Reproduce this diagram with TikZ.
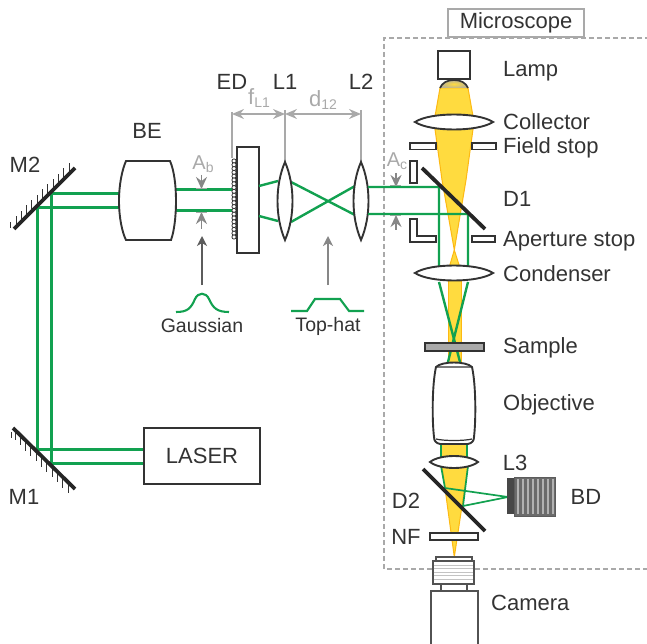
\documentclass[tikz,border=0pt]{standalone}
\usepackage{fontspec}
\setmainfont{Liberation Sans}
\usetikzlibrary{arrows.meta}
\definecolor{ink}{HTML}{333333}
\definecolor{beam}{HTML}{12A150}
\definecolor{pale}{HTML}{A9A9A9}
\definecolor{lampy}{HTML}{FFDB3F}
\definecolor{lampo}{HTML}{FDB913}
\newcommand{\subsc}[1]{{\fontsize{14}{14}\selectfont\raisebox{-3.5pt}{#1}}}
\tikzset{
 x=1pt,y=-1pt,
 lab/.style={text=ink,font=\fontsize{22}{24}\selectfont,inner sep=0pt,anchor=center},
 labl/.style={lab,anchor=west},
 smalllab/.style={lab,font=\fontsize{19.5}{22}\selectfont},
 glab/.style={lab,text=pale},
 outline/.style={draw=ink,line width=1.9pt,fill=white},
 thin outline/.style={draw=ink,line width=1.2pt,fill=white},
 mirror/.style={draw=black!85,line width=3.8pt},
 hatch/.style={draw=ink,line width=.9pt},
 gbeam/.style={draw=beam,line width=3pt},
 gbeamm/.style={draw=beam,line width=2.4pt},
 gbeamt/.style={draw=beam,line width=1.7pt},
 lamp/.style={fill=lampy,draw=lampo,line width=1pt},
 dim/.style={draw=pale,line width=1.5pt,{Stealth[length=12pt,width=10pt,inset=4pt]}-{Stealth[length=12pt,width=10pt,inset=4pt]}},
 ptr/.style={draw=pale!80!black,line width=1.8pt,-{Stealth[length=10pt,width=10pt,inset=3pt]}},
 aper/.style={draw=pale!80!black,line width=1.8pt,-{Stealth[length=12pt,width=11pt,inset=4pt]}},
 guide/.style={draw=pale,line width=1.6pt},
}
\begin{document}
\begin{tikzpicture}
\useasboundingbox (0,0) rectangle (647,644);
% dashed microscope box
\draw[pale,line width=1.7pt,dash pattern=on 5pt off 3pt] (650,38) -- (384,38) -- (384,569) -- (650,569);
\node[lab,draw=pale,line width=2pt,fill=white,minimum width=136pt,minimum height=28pt] (mic) at (516,23) {Microscope};
% left beams
\draw[gbeam] (51,194) -- (119,194) (37,208) -- (119,208);
\draw[gbeam] (37,208) -- (37,449) -- (144,449);
\draw[gbeam] (51,194) -- (51,463) -- (144,463);
\draw[gbeam] (176,190) -- (233,190) (176,211) -- (233,211);
% mirrors
\foreach \x in {16,21.3,...,72}{\draw[hatch] (\x,{229-(\x-14)}) -- ++(0,-11);}
\draw[hatch] (10,222) -- (10,228);
\draw[mirror] (14,229) -- (75,168);
\foreach \x in {15,20.3,...,72}{\draw[hatch] (\x,{428+(\x-13)}) -- ++(0,10);}
\draw[hatch] (11,432) -- (11,438);
\draw[mirror] (13,428) -- (75,489);
\node[lab] (m2) at (25,165) {M2};
\node[lab] (m1) at (24,497) {M1};
% BE
\draw[outline] (126,161) -- (170,161) .. controls (174,170) and (176,185) .. (176,201) .. controls (176,217) and (174,232) .. (171,240) -- (126,240) .. controls (122,232) and (119,217) .. (119,201) .. controls (119,185) and (122,170) .. (126,161) -- cycle;
\node[lab] (be) at (147,131) {BE};
% laser
\node[draw=ink,line width=1.9pt,fill=white,minimum width=116pt,minimum height=56pt,inner sep=0pt,text=ink,font=\fontsize{22}{24}\selectfont] (laser) at (202,456) {LASER};
% ED
\draw[guide] (232,112) -- (232,158);
\foreach \y in {161,164.8,...,240}{\draw[draw=ink,line width=.8pt,fill=white] (234,\y) circle (2.1);}
\draw[outline] (237,147) rectangle (259,253);
\draw[gbeamm] (259,186) -- (278,181) (259,216) -- (278,221);
\draw[gbeamm] (291,182) -- (355,215) (291,222) -- (355,186);
% L1 L2
\draw[guide] (285,110) -- (285,162) (361,110) -- (361,162);
\draw[outline] (285,162) .. controls (275,185) and (275,217) .. (285,240) .. controls (295,217) and (295,185) .. (285,162) -- cycle;
\draw[outline] (361,162) .. controls (351,185) and (351,217) .. (361,240) .. controls (371,217) and (371,185) .. (361,162) -- cycle;
\draw[dim] (232,114) -- (285,114);
\draw[dim] (285,114) -- (361,114);
\node[lab] (ed) at (232,82) {ED};
\node[lab] (l1) at (285,82) {L1};
\node[lab] (l2) at (361,82) {L2};
\node[glab] (fl) at (259,98) {f\subsc{L1}};
\node[glab] (d12) at (323,100) {d\subsc{12}};
% Ab and Ac
\node[glab,font=\fontsize{20}{22}\selectfont] (ab) at (203,164) {A\subsc{b}};
\draw[aper] (201.5,175) -- (201.5,189);
\draw[aper] (201.5,229) -- (201.5,212);
\draw[pale,line width=1.8pt] (196,188.5) -- (207,188.5) (196,212.5) -- (207,212.5);
\node[glab,font=\fontsize{20}{22}\selectfont] (ac) at (397,161) {A\subsc{c}};
\draw[aper] (396,173) -- (396,187);
\draw[aper] (396,230) -- (396,215);
\draw[pale,line width=1.8pt] (390,185.5) -- (401,185.5) (390,215.5) -- (401,215.5);
% pointers and profiles
\coordinate (gt) at (202,236);
\coordinate (gb) at (202,285);
\coordinate (tt) at (328,236);
\coordinate (tb) at (328,285);
\draw[ptr,draw=ink!80,line width=1.4pt] (gb) -- (gt);
\draw[ptr] (tb) -- (tt);
\draw[beam,line width=2.1pt] (176,312) .. controls (188,312) and (191,308) .. (195,299) .. controls (198,292) and (206,292) .. (209,299) .. controls (213,308) and (217,312) .. (229,312);
\draw[beam,line width=2.1pt] (291,311) -- (307,311) -- (315,299) -- (340,299) -- (349,311) -- (364,311);
\node[smalllab] (gau) at (202,326) {Gaussian};
\node[smalllab] (top) at (328,326) {Top-hat};
% yellow light
\draw[lamp] (440,88) -- (468,88) -- (474,122) -- (466,180) -- (454.3,250) -- (442,180) -- (434,122) -- cycle;
\draw[lamp] (454.3,250) -- (460,268) -- (449,268) -- cycle;
\fill[lampy] (448,278) rectangle (461,364);
\draw[lampo,line width=1pt] (448,278) -- (448,364) (461,278) -- (461,364);
\fill[lampy] (442,442) rectangle (468,460);
\draw[lamp] (442,466) -- (468,466) -- (454.3,557) -- cycle;
% green in microscope
\draw[gbeamm] (368,187) -- (439,187) -- (439,268) (439,282) -- (460,362);
\draw[gbeamm] (368,214) -- (468,214) -- (468,268) (468,282) -- (448,362);
\draw[gbeamm] (441,443) -- (441,460) (467,443) -- (467,460);
\draw[gbeamt] (441,466) -- (445,488) -- (508,497) -- (463,506) -- (468,466);
% stops
\draw[thin outline,line width=1.6pt] (410,143) rectangle (436,149.5);
\draw[thin outline,line width=1.6pt] (472,143) rectangle (496,149.5);
\draw[thin outline,line width=1.6pt] (472,236) rectangle (495,242);
\draw[thin outline,line width=1.6pt] (410,161) rectangle (417,183);
\draw[thin outline,line width=1.6pt] (410,219) -- (417,219) -- (417,236) -- (436,236) -- (436,242) -- (410,242) -- cycle;
% mirrors D1 D2
\draw[mirror] (422,168) -- (485,229);
\draw[mirror] (423,469) -- (485,531);
% lamp
\draw[outline] (438,51) rectangle (470,79);
\shade[inner color=lampy,outer color=pale!80!lampy] (440,88) .. controls (442,83) and (447,80) .. (454,80) .. controls (461,80) and (466,83) .. (468,88) -- cycle;
\draw[ink,line width=1.7pt] (440,88) .. controls (442,83) and (447,80) .. (454,80) .. controls (461,80) and (466,83) .. (468,88);
% lenses
\draw[outline] (415,122) .. controls (430,112) and (478,112) .. (493,122) .. controls (478,132) and (430,132) .. (415,122) -- cycle;
\draw[outline] (415,273) .. controls (430,263) and (478,263) .. (493,273) .. controls (478,283) and (430,283) .. (415,273) -- cycle;
\draw[outline] (430,462) .. controls (440,454) and (468,454) .. (478,462) .. controls (468,470) and (440,470) .. (430,462) -- cycle;
% sample
\draw[draw=ink,line width=1.7pt,fill=pale] (425,343) rectangle (484,351);
% objective
\draw[outline] (436,367) .. controls (442,361) and (466,361) .. (472,367) .. controls (476,385) and (476,420) .. (474,437) .. controls (474,441) and (472,443) .. (468,444) -- (440,444) .. controls (436,443) and (434,441) .. (434,437) .. controls (432,420) and (432,385) .. (436,367) -- cycle;
\draw[ink,line width=1.2pt] (436,367) -- (472,367) (436,439) .. controls (444,441) and (464,441) .. (472,439);
% NF
\draw[thin outline,line width=1.6pt] (430,533) rectangle (478,540);
% BD
\fill[ink!90] (507,478) rectangle (514,514);
\fill[black!58] (514,477) rectangle (555,516);
\foreach \x in {518,523,...,553}{\draw[black!30,line width=1.3pt] (\x,479) -- (\x,514);}
\draw[ink!80,line width=1pt] (514,477) rectangle (555,516);
% camera
\draw[thin outline,draw=ink!85] (436,557) rectangle (472,561);
\draw[thin outline,draw=ink!85] (441,584) rectangle (467,591);
\draw[thin outline,draw=ink!85] (433,561) rectangle (474,584);
\foreach \y in {565,568.5,...,582}{\draw[pale!70,line width=.9pt] (433.6,\y) -- (473.4,\y);}
\draw[thin outline,draw=ink!85] (431,650) -- (431,591) -- (478,591) -- (478,650);
% labels
\node[labl] (lampt) at (503,71) {Lamp};
\node[labl] (col) at (503,122) {Collector};
\node[labl] (fs) at (503,148) {Field stop};
\node[labl] (d1) at (503,199) {D1};
\node[labl] (as) at (503,241) {Aperture stop};
\node[labl] (con) at (503,274) {Condenser};
\node[labl] (sam) at (503,348) {Sample};
\node[labl] (obj) at (503,405) {Objective};
\node[lab] (l3) at (515,463) {L3};
\node[lab] (bd) at (586,497) {BD};
\node[lab] (d2) at (406,501) {D2};
\node[lab] (nf) at (406,537) {NF};
\node[labl] (cam) at (491,603) {Camera};
\end{tikzpicture}
\end{document}
